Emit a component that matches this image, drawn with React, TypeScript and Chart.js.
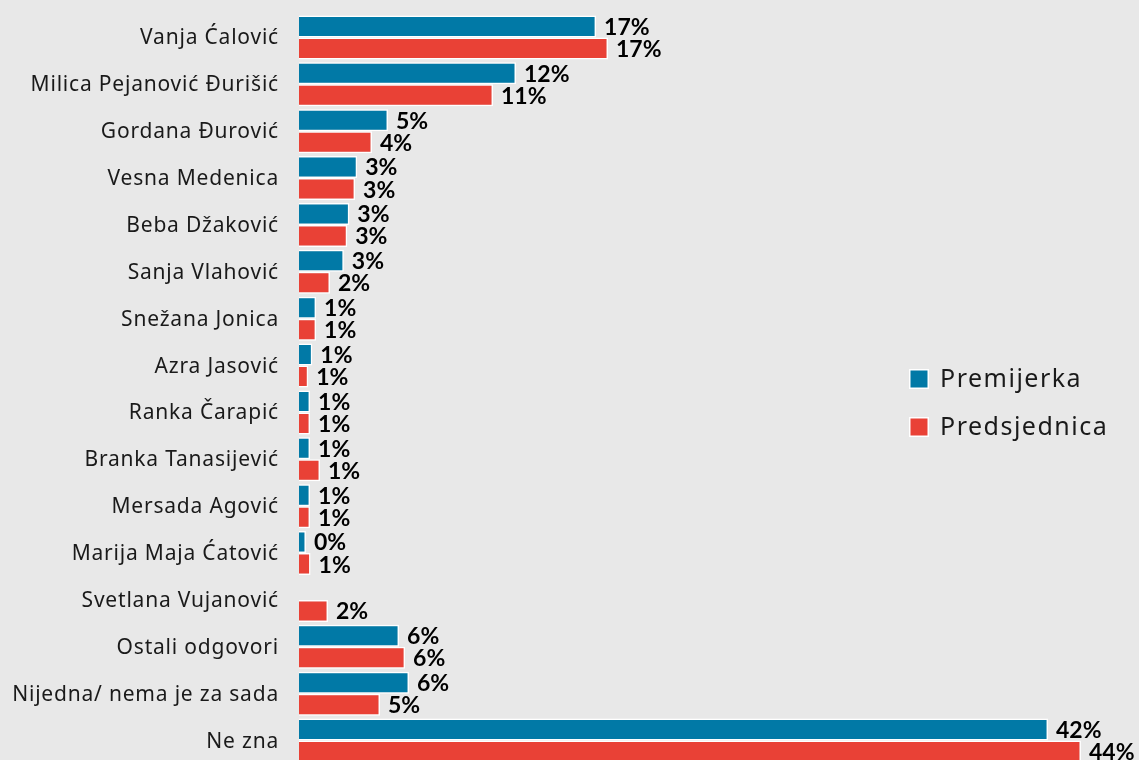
import React, { useEffect, useRef } from "react";
import { Chart, registerables } from "chart.js";

Chart.register(...registerables);

const categories = [
  "Vanja Ćalović",
  "Milica Pejanović Đurišić",
  "Gordana Đurović",
  "Vesna Medenica",
  "Beba Džaković",
  "Sanja Vlahović",
  "Snežana Jonica",
  "Azra Jasović",
  "Ranka Čarapić",
  "Branka Tanasijević",
  "Mersada Agović",
  "Marija Maja Ćatović",
  "Svetlana Vujanović",
  "Ostali odgovori",
  "Nijedna/ nema je za sada",
  "Ne zna",
];

const premijerka: (number | null)[] = [
  16.69, 12.19, 5.0, 3.27, 2.83, 2.52, 0.96, 0.75, 0.62, 0.62, 0.62, 0.39, null, 5.62, 6.18, 42.08,
];
const predsjednica: (number | null)[] = [
  17.36, 10.9, 4.1, 3.15, 2.71, 1.74, 0.96, 0.52, 0.62, 1.18, 0.62, 0.65, 1.63, 5.96, 4.55, 43.93,
];

const seriesNames = ["Premijerka", "Predsjednica"];
const seriesColors = ["#0179a6", "#e94136"];
const xMin = 0;
const xMax = 47;

const overlayPlugin = {
  id: "overlay",
  afterDatasetsDraw(chart: any) {
    const ctx: CanvasRenderingContext2D = chart.ctx;
    ctx.save();
    // value labels
    ctx.font = "bold 23px Lato";
    ctx.fillStyle = "#000";
    ctx.textBaseline = "middle";
    ctx.textAlign = "left";
    chart.data.datasets.forEach((ds: any, di: number) => {
      const meta = chart.getDatasetMeta(di);
      meta.data.forEach((bar: any, i: number) => {
        const v = ds.data[i];
        if (v == null || !isFinite(bar.x)) return;
        ctx.fillText(Math.round(v) + "%", bar.x + 8, bar.y + 1);
      });
    });
    // category labels
    const yScale = chart.scales.y;
    ctx.font = "21px 'Noto Sans'";
    (ctx as any).letterSpacing = "0.8px";
    ctx.fillStyle = "#1a1a1a";
    ctx.textAlign = "right";
    categories.forEach((c, i) => {
      ctx.fillText(c, 279, yScale.getPixelForValue(i) + 1);
    });
    // legend
    ctx.font = "25px 'Noto Sans'";
    (ctx as any).letterSpacing = "1.5px";
    ctx.textAlign = "left";
    seriesNames.forEach((n, i) => {
      const cy = 379 + i * 48;
      ctx.fillStyle = "#ffffff";
      ctx.fillRect(909, cy - 10, 20, 20);
      ctx.fillStyle = seriesColors[i];
      ctx.fillRect(910.5, cy - 8.5, 17, 17);
      ctx.fillStyle = "#1a1a1a";
      ctx.fillText(n, 940, cy + 1);
    });
    ctx.restore();
  },
};

export default function App() {
  const ref = useRef<HTMLCanvasElement>(null);
  useEffect(() => {
    if (!ref.current) return;
    const chart = new Chart(ref.current, {
      type: "bar",
      data: {
        labels: categories,
        datasets: [
          {
            label: seriesNames[0],
            data: premijerka,
            backgroundColor: seriesColors[0],
            borderColor: "#ffffff",
            borderWidth: 1.5,
            categoryPercentage: 0.94,
            barPercentage: 1,
          },
          {
            label: seriesNames[1],
            data: predsjednica,
            backgroundColor: seriesColors[1],
            borderColor: "#ffffff",
            borderWidth: 1.5,
            categoryPercentage: 0.94,
            barPercentage: 1,
          },
        ],
      },
      options: {
        indexAxis: "y",
        responsive: false,
        animation: false,
        layout: { padding: { left: 0, right: 3.4, top: 14, bottom: 0 } },
        plugins: {
          legend: { display: false },
          tooltip: { enabled: false },
        },
        scales: {
          x: { display: false, min: xMin, max: xMax },
          y: {
            type: "category",
            grid: { display: false },
            border: { display: false },
            ticks: { display: false },
            afterFit: (s: any) => {
              s.width = 299;
            },
          },
        },
      },
      plugins: [overlayPlugin],
    } as any);
    return () => chart.destroy();
  }, []);
  return (
    <div
      style={{
        position: "fixed",
        left: 0,
        top: 0,
        width: "100vw",
        height: "100vh",
        overflow: "hidden",
        background: "#e8e8e8",
      }}
    >
      <canvas ref={ref} width={1139} height={764} style={{ display: "block" }} />
    </div>
  );
}
